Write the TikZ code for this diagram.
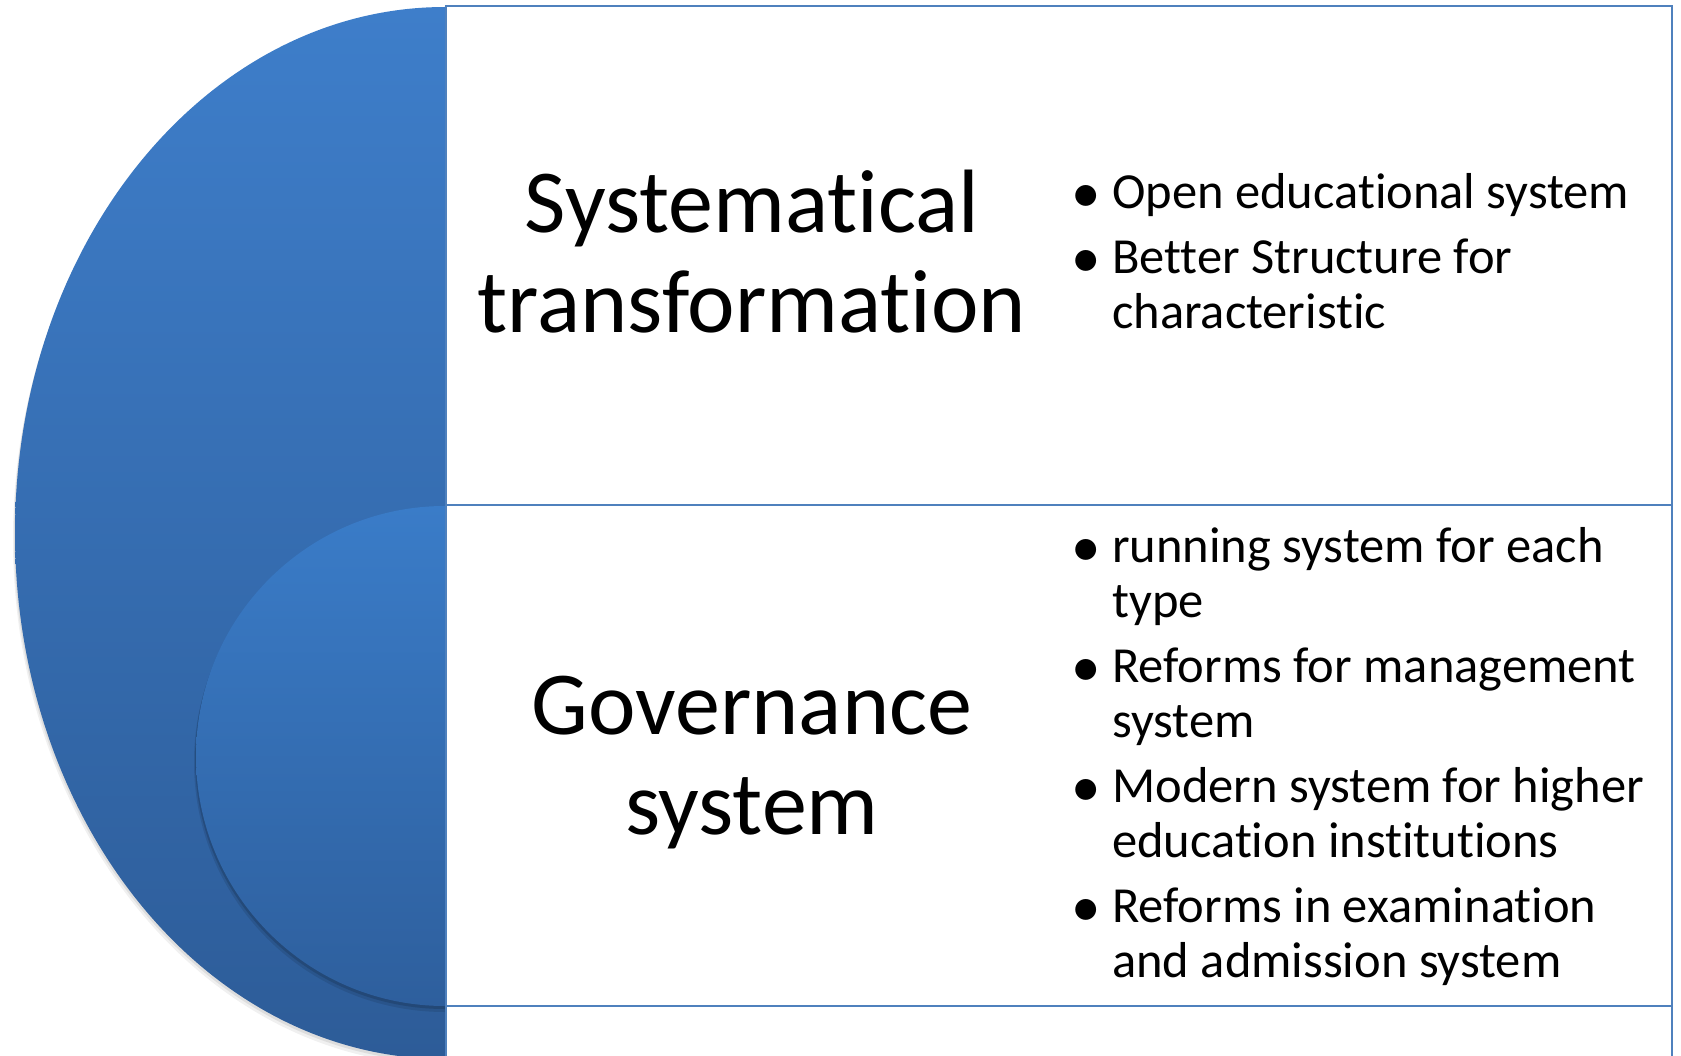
\documentclass[tikz,border=0pt]{standalone}
\usepackage{fontspec}
\setmainfont[Ligatures={NoCommon}]{Carlito}
\usetikzlibrary{calc}
\definecolor{bigtop}{RGB}{62,126,202}
\definecolor{bigbot}{RGB}{45,92,152}
\definecolor{smalltop}{RGB}{58,124,200}
\definecolor{smallbot}{RGB}{46,95,157}
\definecolor{lineblue}{RGB}{79,129,189}
\newcommand{\mybul}{\hspace*{-6pt}\raisebox{-4pt}{\fontsize{59}{55}\selectfont\textbullet}}
\begin{document}
\begin{tikzpicture}[x=1pt,y=-1pt,
  cell/.style={draw=lineblue, line width=2pt, fill=white},
  titletext/.style={anchor=north, inner sep=0pt, font=\fontsize{90}{100}\selectfont, text=black},
  listtext/.style={anchor=north west, inner sep=0pt, font=\fontsize{50.5}{55}\selectfont, text=black}]
\useasboundingbox (0,0) rectangle (1681,1056);
\clip (0,0) rectangle (1681,1056);
% big half ellipse: shadow then shape
\begin{scope}
  \clip (0,0) rectangle (446,1056);
  \fill[black, opacity=0.06] (445,13) arc[start angle=-90, end angle=-270, x radius=432, y radius=526] -- cycle;
  \fill[black, opacity=0.08] (445,10) arc[start angle=-90, end angle=-270, x radius=431, y radius=526] -- cycle;
\end{scope}
\path[top color=bigtop, bottom color=bigbot] (445,7) arc[start angle=-90, end angle=-270, x radius=430, y radius=526] -- cycle;
% small half disc: shadow then shape
\begin{scope}
  \clip (0,0) rectangle (446,1056);
  \fill[black, opacity=0.10] (445,512) arc[start angle=-90, end angle=-270, x radius=251, y radius=250] -- cycle;
  \fill[black, opacity=0.14] (445,509) arc[start angle=-90, end angle=-270, x radius=250, y radius=250] -- cycle;
\end{scope}
\path[top color=smalltop, bottom color=smallbot] (445,506) arc[start angle=-90, end angle=-270, x radius=249, y radius=250] -- cycle;
% cells
\draw[cell] (446,6) rectangle (1672,505);
\draw[cell] (446,505) rectangle (1672,1006);
\draw[cell] (446,1006) rectangle (1672,1080);
% titles
\node[titletext] (t1) at (752,162) {\begin{tabular}{@{}c@{}}Systematical\\transformation\end{tabular}};
\node[titletext] (t2) at (752,664) {\begin{tabular}{@{}c@{}}Governance\\system\end{tabular}};
% lists
\node[listtext] (l1) at (1077,169.5) {\begin{tabular}{@{}p{35pt}@{}l@{}}
\mybul & Open educational system\\[10pt]
\mybul & Better Structure for\\
 & characteristic
\end{tabular}};
\node[listtext] (l2) at (1077,523.5) {\begin{tabular}{@{}p{35pt}@{}l@{}}
\mybul & running system for each\\
 & type\\[10pt]
\mybul & Reforms for management\\
 & system\\[10pt]
\mybul & Modern system for higher\\
 & education institutions\\[10pt]
\mybul & Reforms in examination\\
 & and admission system
\end{tabular}};
\end{tikzpicture}
\end{document}
